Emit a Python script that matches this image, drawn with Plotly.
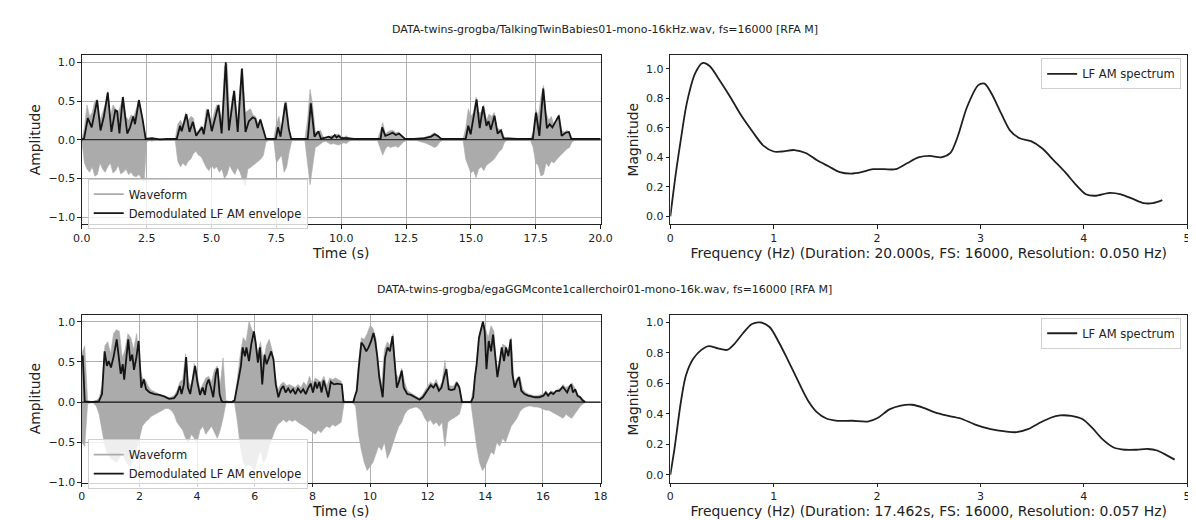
import numpy as np
import plotly.graph_objects as go

# ---------------- data: top recording ----------------
title_top = "DATA-twins-grogba/TalkingTwinBabies01-mono-16kHz.wav, fs=16000 [RFA M]"
title_bot = "DATA-twins-grogba/egaGGMconte1callerchoir01-mono-16k.wav, fs=16000 [RFA M]"
xlabel_spec_top = "Frequency (Hz) (Duration: 20.000s, FS: 16000, Resolution: 0.050 Hz)"
xlabel_spec_bot = "Frequency (Hz) (Duration: 17.462s, FS: 16000, Resolution: 0.057 Hz)"

wave_t_top = np.round(np.arange(201) * 0.1, 1)
wave_hi_top = [
    0.01, 0.15, 0.45, 0.30, 0.35, 0.50, 0.52, 0.25, 0.35, 0.45,
    0.62, 0.30, 0.45, 0.40, 0.35, 0.45, 0.56, 0.30, 0.25, 0.32,
    0.30, 0.40, 0.52, 0.35, 0.15, 0.02, 0.01, 0.02, 0.01, 0.01,
    0.01, 0.01, 0.01, 0.01, 0.01, 0.01, 0.01, 0.20, 0.25, 0.20,
    0.35, 0.25, 0.30, 0.28, 0.10, 0.12, 0.18, 0.15, 0.40, 0.35,
    0.20, 0.35, 0.45, 0.40, 0.25, 0.95, 0.98, 0.30, 0.55, 0.62,
    0.25, 0.70, 0.92, 0.35, 0.38, 0.40, 0.32, 0.30, 0.20, 0.27,
    0.15, 0.02, 0.01, 0.01, 0.01, 0.20, 0.30, 0.10, 0.45, 0.48,
    0.12, 0.01, 0.01, 0.01, 0.01, 0.01, 0.01, 0.25, 0.65, 0.45,
    0.10, 0.10, 0.12, 0.04, 0.02, 0.03, 0.05, 0.05, 0.07, 0.07,
    0.05, 0.03, 0.05, 0.02, 0.01, 0.01, 0.01, 0.01, 0.01, 0.01,
    0.01, 0.01, 0.01, 0.01, 0.01, 0.10, 0.22, 0.08, 0.10, 0.12,
    0.12, 0.09, 0.10, 0.07, 0.03, 0.01, 0.01, 0.01, 0.01, 0.01,
    0.01, 0.02, 0.03, 0.04, 0.05, 0.07, 0.09, 0.06, 0.03, 0.01,
    0.01, 0.01, 0.01, 0.01, 0.01, 0.01, 0.01, 0.01, 0.15, 0.40,
    0.30, 0.35, 0.55, 0.35, 0.35, 0.45, 0.25, 0.33, 0.30, 0.35,
    0.15, 0.14, 0.12, 0.02, 0.01, 0.01, 0.01, 0.01, 0.01, 0.01,
    0.01, 0.01, 0.01, 0.01, 0.10, 0.40, 0.30, 0.55, 0.70, 0.35,
    0.25, 0.30, 0.20, 0.22, 0.33, 0.12, 0.10, 0.12, 0.10, 0.02,
    0.01, 0.01, 0.01, 0.01, 0.01, 0.01, 0.01, 0.01, 0.01, 0.01, 0.01,
]
wave_lo_top = [
    -0.01, -0.30, -0.38, -0.42, -0.35, -0.47, -0.45, -0.30, -0.38, -0.42,
    -0.35, -0.30, -0.43, -0.40, -0.33, -0.44, -0.42, -0.38, -0.45, -0.42,
    -0.47, -0.48, -0.45, -0.50, -0.55, -0.03, -0.01, -0.02, -0.01, -0.01,
    -0.01, -0.01, -0.01, -0.01, -0.01, -0.01, -0.01, -0.28, -0.35, -0.30,
    -0.34, -0.28, -0.25, -0.18, -0.15, -0.20, -0.22, -0.30, -0.36, -0.40,
    -0.33, -0.38, -0.35, -0.42, -0.38, -0.50, -0.45, -0.33, -0.40, -0.45,
    -0.36, -0.42, -0.52, -0.60, -0.38, -0.36, -0.33, -0.30, -0.28, -0.25,
    -0.20, -0.03, -0.01, -0.01, -0.01, -0.30, -0.25, -0.20, -0.42, -0.35,
    -0.15, -0.01, -0.01, -0.01, -0.01, -0.01, -0.01, -0.30, -0.58, -0.35,
    -0.10, -0.08, -0.06, -0.03, -0.02, -0.04, -0.06, -0.05, -0.06, -0.07,
    -0.05, -0.04, -0.05, -0.02, -0.01, -0.01, -0.01, -0.01, -0.01, -0.01,
    -0.01, -0.01, -0.01, -0.01, -0.01, -0.10, -0.20, -0.12, -0.08, -0.10,
    -0.09, -0.08, -0.10, -0.07, -0.03, -0.01, -0.01, -0.01, -0.01, -0.01,
    -0.01, -0.03, -0.04, -0.05, -0.07, -0.08, -0.10, -0.08, -0.03, -0.01,
    -0.01, -0.01, -0.01, -0.01, -0.01, -0.01, -0.01, -0.01, -0.25, -0.34,
    -0.43, -0.40, -0.49, -0.38, -0.35, -0.40, -0.33, -0.30, -0.28, -0.25,
    -0.20, -0.15, -0.12, -0.03, -0.01, -0.01, -0.01, -0.01, -0.01, -0.01,
    -0.01, -0.01, -0.01, -0.01, -0.10, -0.30, -0.33, -0.47, -0.45, -0.30,
    -0.35, -0.28, -0.30, -0.26, -0.22, -0.18, -0.15, -0.12, -0.10, -0.03,
    -0.01, -0.01, -0.01, -0.01, -0.01, -0.01, -0.01, -0.01, -0.01, -0.01, -0.01,
]

env_t_top = [0.0, 0.09, 0.23, 0.38, 0.59, 0.72, 0.85, 1.0, 1.14, 1.29, 1.36, 1.45, 1.58, 1.75, 1.86, 1.98,
             2.05, 2.2, 2.34, 2.46, 2.7, 3.0, 3.3, 3.66, 3.79, 3.85, 4.03, 4.15, 4.28, 4.41, 4.63, 4.7,
             4.86, 5.01, 5.27, 5.39, 5.55, 5.67, 5.87, 6.01, 6.17, 6.31, 6.44, 6.59, 6.69, 6.78, 6.88,
             7.03, 7.1, 7.3, 7.48, 7.56, 7.66, 7.85, 7.98, 8.07, 8.4, 8.71, 8.83, 8.97, 9.12, 9.22, 9.52,
             9.63, 9.75, 9.82, 9.9, 10.0, 10.25, 10.5, 11.0, 11.52, 11.58, 11.7, 11.86, 11.98, 12.11,
             12.23, 12.33, 12.46, 12.8, 13.22, 13.47, 13.6, 13.72, 13.85, 14.3, 14.8, 14.9, 14.99, 15.22,
             15.34, 15.47, 15.6, 15.68, 15.77, 15.91, 16.03, 16.16, 16.25, 16.8, 17.39, 17.51, 17.64,
             17.79, 17.93, 18.04, 18.14, 18.39, 18.5, 18.65, 18.78, 18.87, 19.4, 20.0]
env_v_top = [0.0, 0.02, 0.28, 0.16, 0.51, 0.12, 0.30, 0.61, 0.10, 0.38, 0.37, 0.08, 0.55, 0.08, 0.16, 0.30,
             0.20, 0.51, 0.27, 0.01, 0.02, 0.005, 0.01, 0.01, 0.18, 0.11, 0.33, 0.10, 0.23, 0.05, 0.16, 0.07,
             0.39, 0.11, 0.45, 0.08, 1.0, 0.12, 0.63, 0.10, 0.92, 0.10, 0.24, 0.29, 0.27, 0.15, 0.26,
             0.10, 0.01, 0.01, 0.01, 0.16, 0.04, 0.48, 0.14, 0.01, 0.01, 0.01, 0.47, 0.04, 0.11, 0.01, 0.04,
             0.02, 0.06, 0.03, 0.05, 0.02, 0.02, 0.01, 0.01, 0.01, 0.16, 0.05, 0.07, 0.09, 0.06,
             0.08, 0.05, 0.01, 0.01, 0.02, 0.04, 0.07, 0.05, 0.01, 0.01, 0.01, 0.18, 0.07, 0.52,
             0.15, 0.43, 0.18, 0.24, 0.13, 0.31, 0.08, 0.12, 0.02, 0.01, 0.01, 0.35, 0.05,
             0.66, 0.15, 0.20, 0.16, 0.31, 0.05, 0.09, 0.10, 0.01, 0.01, 0.01]

spec_f_top = [0.0, 0.055, 0.11, 0.16, 0.24, 0.31, 0.38, 0.47, 0.58, 0.69, 0.8, 0.9, 1.0, 1.08, 1.2, 1.31,
              1.42, 1.53, 1.64, 1.75, 1.85, 1.96, 2.07, 2.18, 2.29, 2.4, 2.51, 2.62, 2.71, 2.78, 2.87,
              2.98, 3.04, 3.11, 3.2, 3.29, 3.38, 3.49, 3.6, 3.71, 3.82, 3.93, 4.02, 4.11, 4.25, 4.36,
              4.47, 4.58, 4.67, 4.76]
spec_m_top = [0.0, 0.30, 0.56, 0.77, 0.97, 1.04, 1.02, 0.93, 0.81, 0.68, 0.57, 0.48, 0.44, 0.44, 0.45, 0.43,
              0.38, 0.34, 0.30, 0.29, 0.30, 0.32, 0.32, 0.32, 0.36, 0.40, 0.41, 0.40, 0.43, 0.54, 0.74,
              0.89, 0.90, 0.83, 0.70, 0.58, 0.53, 0.51, 0.46, 0.38, 0.30, 0.21, 0.15, 0.14, 0.16, 0.15,
              0.12, 0.09, 0.09, 0.11]

# ---------------- data: bottom recording ----------------
wave_t_bot = np.round(np.arange(176) * 0.1, 1)
wave_hi_bot = [
    0.60, 0.70, 0.02, 0.01, 0.01, 0.02, 0.05, 0.20, 0.70, 0.75,
    0.60, 0.85, 0.90, 0.88, 0.55, 0.65, 0.85, 0.80, 0.65, 0.85,
    0.45, 0.30, 0.28, 0.20, 0.15, 0.13, 0.12, 0.10, 0.08, 0.07,
    0.06, 0.06, 0.08, 0.14, 0.25, 0.28, 0.60, 0.25, 0.20, 0.48,
    0.35, 0.15, 0.22, 0.30, 0.32, 0.25, 0.40, 0.45, 0.20, 0.55,
    0.02, 0.01, 0.01, 0.03, 0.30, 0.60, 0.80, 0.75, 1.00, 0.90,
    0.85, 0.60, 0.75, 0.50, 0.70, 0.78, 0.65, 0.35, 0.15, 0.22,
    0.25, 0.20, 0.22, 0.20, 0.18, 0.22, 0.18, 0.25, 0.20, 0.32,
    0.22, 0.30, 0.28, 0.25, 0.32, 0.20, 0.30, 0.28, 0.30, 0.28,
    0.26, 0.01, 0.01, 0.01, 0.01, 0.08, 0.50, 0.80, 0.78, 0.85,
    0.95, 0.92, 0.80, 0.45, 0.20, 0.65, 0.75, 0.70, 0.85, 0.35,
    0.30, 0.42, 0.25, 0.14, 0.12, 0.10, 0.07, 0.05, 0.08, 0.15,
    0.20, 0.25, 0.22, 0.28, 0.18, 0.25, 0.52, 0.22, 0.20, 0.20,
    0.26, 0.20, 0.01, 0.01, 0.01, 0.01, 0.20, 0.55, 0.85, 1.00,
    0.92, 0.80, 0.95, 0.88, 0.40, 0.55, 0.72, 0.70, 0.62, 0.80,
    0.25, 0.30, 0.32, 0.16, 0.12, 0.10, 0.09, 0.08, 0.08, 0.09,
    0.10, 0.14, 0.10, 0.14, 0.12, 0.16, 0.17, 0.22, 0.18, 0.20,
    0.24, 0.18, 0.10, 0.07, 0.03, 0.00,
]
wave_lo_bot = [
    -0.50, -0.55, -0.02, -0.01, -0.01, -0.05, -0.15, -0.35, -0.55, -0.65,
    -0.70, -0.72, -0.75, -0.70, -0.60, -0.72, -0.78, -0.80, -0.70, -0.60,
    -0.45, -0.30, -0.25, -0.22, -0.18, -0.16, -0.14, -0.12, -0.10, -0.08,
    -0.08, -0.10, -0.15, -0.25, -0.30, -0.35, -0.45, -0.50, -0.40, -0.45,
    -0.50, -0.35, -0.30, -0.40, -0.35, -0.30, -0.38, -0.45, -0.35, -0.20,
    -0.01, -0.01, -0.01, -0.01, -0.25, -0.55, -0.75, -0.80, -0.78, -0.80,
    -0.85, -0.70, -0.60, -0.75, -0.70, -0.55, -0.45, -0.35, -0.28, -0.25,
    -0.22, -0.25, -0.22, -0.24, -0.22, -0.25, -0.28, -0.30, -0.32, -0.35,
    -0.38, -0.40, -0.35, -0.38, -0.33, -0.30, -0.32, -0.28, -0.30, -0.27,
    -0.25, -0.01, -0.01, -0.01, -0.01, -0.05, -0.40, -0.60, -0.75, -0.85,
    -0.80, -0.75, -0.65, -0.55, -0.60, -0.50, -0.70, -0.62, -0.52, -0.40,
    -0.30, -0.25, -0.15, -0.10, -0.08, -0.07, -0.06, -0.08, -0.12, -0.20,
    -0.25, -0.22, -0.28, -0.25, -0.30, -0.25, -0.55, -0.25, -0.22, -0.20,
    -0.18, -0.15, -0.01, -0.01, -0.01, -0.01, -0.30, -0.55, -0.75, -0.85,
    -0.80, -0.70, -0.62, -0.65, -0.50, -0.55, -0.45, -0.50, -0.40, -0.30,
    -0.25, -0.20, -0.12, -0.08, -0.06, -0.05, -0.05, -0.06, -0.06, -0.07,
    -0.08, -0.10, -0.10, -0.12, -0.14, -0.15, -0.18, -0.20, -0.15, -0.18,
    -0.20, -0.15, -0.10, -0.05, -0.02, 0.00,
]

env_t_bot = [0.0, 0.03, 0.06, 0.1, 0.3, 0.59, 0.7, 0.79, 0.87, 0.93, 1.01, 1.1, 1.21, 1.27, 1.35, 1.42, 1.47,
             1.55, 1.61, 1.68, 1.75, 1.81, 1.89, 1.97, 2.06, 2.15, 2.23, 2.35, 2.52, 2.69, 2.86, 3.03, 3.2,
             3.31, 3.4, 3.46, 3.54, 3.62, 3.68, 3.76, 3.84, 3.93, 4.01, 4.1, 4.19, 4.27, 4.33, 4.4, 4.48,
             4.56, 4.65, 4.71, 4.78, 4.84, 4.9, 5.2, 5.3, 5.35, 5.43, 5.52, 5.58, 5.66, 5.71, 5.8, 5.88,
             5.97, 6.03, 6.11, 6.18, 6.26, 6.34, 6.41, 6.48, 6.57, 6.65, 6.73, 6.82, 6.91, 6.99, 7.07,
             7.16, 7.24, 7.33, 7.41, 7.5, 7.6, 7.68, 7.77, 7.85, 7.94, 8.02, 8.1, 8.16, 8.24, 8.32, 8.39,
             8.47, 8.55, 8.64, 8.75, 8.87, 8.96, 9.02, 9.08, 9.42, 9.48, 9.54, 9.61, 9.7, 9.78, 9.87,
             9.95, 10.04, 10.12, 10.18, 10.25, 10.32, 10.44, 10.52, 10.61, 10.69, 10.78, 10.86, 10.93,
             11.01, 11.1, 11.17, 11.29, 11.42, 11.57, 11.72, 11.83, 11.95, 12.03, 12.11, 12.2, 12.29,
             12.39, 12.48, 12.57, 12.65, 12.73, 12.82, 12.93, 13.01, 13.1, 13.19, 13.5, 13.58, 13.64,
             13.7, 13.78, 13.86, 13.92, 13.98, 14.04, 14.12, 14.2, 14.27, 14.35, 14.42, 14.49, 14.57,
             14.65, 14.72, 14.8, 14.88, 14.94, 15.02, 15.1, 15.17, 15.25, 15.36, 15.48, 15.59, 15.73,
             15.87, 16.02, 16.1, 16.18, 16.27, 16.36, 16.46, 16.57, 16.69, 16.76, 16.84, 16.91, 16.98,
             17.04, 17.12, 17.2, 17.29, 17.38, 17.46]
env_v_bot = [0.55, 0.58, 0.35, 0.01, 0.0, 0.01, 0.10, 0.63, 0.45, 0.51, 0.43, 0.56, 0.78, 0.61, 0.35, 0.47, 0.28,
             0.57, 0.78, 0.51, 0.59, 0.40, 0.55, 0.76, 0.18, 0.28, 0.16, 0.12, 0.10, 0.09, 0.07, 0.04, 0.05,
             0.10, 0.20, 0.10, 0.22, 0.56, 0.18, 0.10, 0.27, 0.45, 0.25, 0.09, 0.18, 0.09, 0.22, 0.28, 0.18,
             0.06, 0.35, 0.42, 0.10, 0.02, 0.0, 0.0, 0.02, 0.10, 0.27, 0.45, 0.68, 0.57, 0.68, 0.51, 0.72,
             0.88, 0.74, 0.49, 0.68, 0.22, 0.59, 0.47, 0.55, 0.63, 0.53, 0.22, 0.06, 0.16, 0.20, 0.12,
             0.17, 0.12, 0.16, 0.10, 0.17, 0.12, 0.16, 0.10, 0.17, 0.23, 0.12, 0.25, 0.17, 0.25, 0.12, 0.27,
             0.17, 0.06, 0.25, 0.22, 0.23, 0.22, 0.22, 0.0, 0.0, 0.08, 0.14, 0.43, 0.74, 0.70, 0.63,
             0.68, 0.76, 0.86, 0.76, 0.57, 0.31, 0.06, 0.55, 0.68, 0.63, 0.82, 0.47, 0.18,
             0.26, 0.39, 0.18, 0.10, 0.09, 0.06, 0.03, 0.06, 0.12, 0.16, 0.21, 0.18, 0.23,
             0.14, 0.18, 0.31, 0.41, 0.16, 0.15, 0.16, 0.24, 0.18, 0.0, 0.0, 0.06, 0.31,
             0.47, 0.80, 0.90, 1.0, 0.88, 0.41, 0.76, 0.63, 0.84, 0.59, 0.31, 0.47, 0.68,
             0.51, 0.68, 0.57, 0.78, 0.35, 0.18, 0.26, 0.31, 0.14, 0.10, 0.08, 0.07, 0.06,
             0.06, 0.08, 0.12, 0.08, 0.12, 0.10, 0.14, 0.14, 0.19, 0.16, 0.12, 0.18, 0.22,
             0.12, 0.16, 0.08, 0.06, 0.02, 0.0]

spec_f_bot = [0.0, 0.04, 0.1, 0.15, 0.22, 0.3, 0.37, 0.46, 0.55, 0.62, 0.71, 0.79, 0.87, 0.96, 1.05, 1.14,
              1.24, 1.33, 1.42, 1.51, 1.62, 1.76, 1.91, 2.01, 2.12, 2.23, 2.34, 2.45, 2.56, 2.67, 2.81,
              2.95, 3.1, 3.24, 3.35, 3.46, 3.57, 3.68, 3.77, 3.88, 3.99, 4.08, 4.18, 4.29, 4.4, 4.51,
              4.62, 4.71, 4.8, 4.88]
spec_m_bot = [0.0, 0.17, 0.47, 0.65, 0.76, 0.82, 0.845, 0.83, 0.82, 0.86, 0.935, 0.99, 1.0, 0.97, 0.87, 0.75,
              0.61, 0.49, 0.41, 0.37, 0.355, 0.355, 0.35, 0.375, 0.43, 0.455, 0.46, 0.44, 0.41, 0.39, 0.37,
              0.33, 0.30, 0.285, 0.28, 0.30, 0.34, 0.375, 0.39, 0.387, 0.365, 0.31, 0.235, 0.18, 0.165, 0.165,
              0.17, 0.16, 0.13, 0.10]

# ---------------- figure ----------------
FONT = "DejaVu Sans"
WAVE_COLOR = "#ababab"
ENV_COLOR = "#151515"
SPEC_COLOR = "#202020"

W, H = 1196, 520
def px_x(a, b):
    return [a / W, b / W]
def px_y(top, bottom):
    return [1 - bottom / H, 1 - top / H]

fig = go.Figure()

rows = [
    dict(wt=wave_t_top, hi=wave_hi_top, lo=wave_lo_top, et=env_t_top, ev=env_v_top,
         sf=spec_f_top, sm=spec_m_top, xa="x", ya="y", xs="x2", ys="y2", lg1="legend", lg2="legend2"),
    dict(wt=wave_t_bot, hi=wave_hi_bot, lo=wave_lo_bot, et=env_t_bot, ev=env_v_bot,
         sf=spec_f_bot, sm=spec_m_bot, xa="x3", ya="y3", xs="x4", ys="y4", lg1="legend3", lg2="legend4"),
]

for r in rows:
    poly_x = list(r["wt"]) + list(r["wt"])[::-1]
    poly_y = list(r["hi"]) + list(r["lo"])[::-1]
    fig.add_trace(go.Scatter(x=poly_x, y=poly_y, mode="lines", fill="toself",
                             fillcolor=WAVE_COLOR, line=dict(color=WAVE_COLOR, width=0.6),
                             xaxis=r["xa"], yaxis=r["ya"], showlegend=False, hoverinfo="skip"))
    fig.add_trace(go.Scatter(x=[None], y=[None], mode="lines", name="Waveform",
                             line=dict(color=WAVE_COLOR, width=1.8),
                             xaxis=r["xa"], yaxis=r["ya"], legend=r["lg1"]))
    fig.add_trace(go.Scatter(x=r["et"], y=r["ev"], mode="lines", name="Demodulated LF AM envelope",
                             line=dict(color=ENV_COLOR, width=1.8),
                             xaxis=r["xa"], yaxis=r["ya"], legend=r["lg1"]))
    fig.add_trace(go.Scatter(x=r["sf"], y=r["sm"], mode="lines", name="LF AM spectrum",
                             line=dict(color=SPEC_COLOR, width=1.8, shape="spline", smoothing=0.8),
                             xaxis=r["xs"], yaxis=r["ys"], legend=r["lg2"]))

axis_common = dict(showline=True, mirror=True, linecolor="#222222", linewidth=1,
                   ticks="outside", ticklen=3.5, tickwidth=1, tickcolor="#222222",
                   zeroline=False, tickfont=dict(family=FONT, size=11, color="#222222"))
title_font = dict(family=FONT, size=13.9, color="#222222")
grid_on = dict(showgrid=True, gridcolor="#b0b0b0", gridwidth=0.8)
grid_off = dict(showgrid=False)

yt = px_y(48, 219)
yb = px_y(311, 481)
xl = px_x(66, 594)
xr = px_x(665, 1191)

fig.update_layout(
    width=W, height=H, margin=dict(l=0, r=0, t=0, b=0),
    paper_bgcolor="white", plot_bgcolor="white",
    font=dict(family=FONT, color="#222222"),
    xaxis=dict(domain=xl, anchor="y", range=[0, 20], dtick=2.5, tick0=0, tickformat=".1f",
               title=dict(text="Time (s)", font=title_font, standoff=3), **axis_common, **grid_on),
    yaxis=dict(domain=yt, anchor="x", range=[-1.09, 1.09], dtick=0.5, tick0=0, tickformat=".1f",
               title=dict(text="Amplitude", font=title_font, standoff=4), **axis_common, **grid_on),
    xaxis2=dict(domain=xr, anchor="y2", range=[0, 5], dtick=1, tick0=0,
                title=dict(text=xlabel_spec_top, font=title_font, standoff=3), **axis_common, **grid_off),
    yaxis2=dict(domain=yt, anchor="x2", range=[-0.052, 1.092], dtick=0.2, tick0=0, tickformat=".1f",
                title=dict(text="Magnitude", font=title_font, standoff=4), **axis_common, **grid_off),
    xaxis3=dict(domain=xl, anchor="y3", range=[0, 18], dtick=2, tick0=0,
                title=dict(text="Time (s)", font=title_font, standoff=3), **axis_common, **grid_on),
    yaxis3=dict(domain=yb, anchor="x3", range=[-1.0, 1.085], dtick=0.5, tick0=0, tickformat=".1f",
                title=dict(text="Amplitude", font=title_font, standoff=4), **axis_common, **grid_on),
    xaxis4=dict(domain=xr, anchor="y4", range=[0, 5], dtick=1, tick0=0,
                title=dict(text=xlabel_spec_bot, font=title_font, standoff=3), **axis_common, **grid_off),
    yaxis4=dict(domain=yb, anchor="x4", range=[-0.05, 1.05], dtick=0.2, tick0=0, tickformat=".1f",
                title=dict(text="Magnitude", font=title_font, standoff=4), **axis_common, **grid_off),
)

legend_style = dict(bgcolor="rgba(255,255,255,0.8)", bordercolor="#d0d0d0", borderwidth=1,
                    font=dict(family=FONT, size=11.5, color="#222222"), itemwidth=30,
                    tracegroupgap=0)
fig.update_layout(
    legend=dict(x=72 / W, y=1 - 173 / H, xanchor="left", yanchor="top", **legend_style),
    legend2=dict(x=1185 / W, y=1 - 51 / H, xanchor="right", yanchor="top", **legend_style),
    legend3=dict(x=72 / W, y=1 - 437 / H, xanchor="left", yanchor="top", **legend_style),
    legend4=dict(x=1185 / W, y=1 - 314 / H, xanchor="right", yanchor="top", **legend_style),
)

# zero reference lines on the waveform panels
fig.add_shape(type="line", xref="x domain", yref="y", x0=0, x1=1, y0=0, y1=0,
              line=dict(color="#111111", width=1))
fig.add_shape(type="line", xref="x3 domain", yref="y3", x0=0, x1=1, y0=0, y1=0,
              line=dict(color="#111111", width=1.2))

# row titles
fig.add_annotation(text=title_top, x=0.5, y=1 - 22 / H, xref="paper", yref="paper",
                   xanchor="center", yanchor="middle",
                   showarrow=False, font=dict(family=FONT, size=11, color="#222222"))
fig.add_annotation(text=title_bot, x=0.5, y=1 - 285 / H, xref="paper", yref="paper",
                   xanchor="center", yanchor="middle",
                   showarrow=False, font=dict(family=FONT, size=11, color="#222222"))

fig.write_html("out.html")
